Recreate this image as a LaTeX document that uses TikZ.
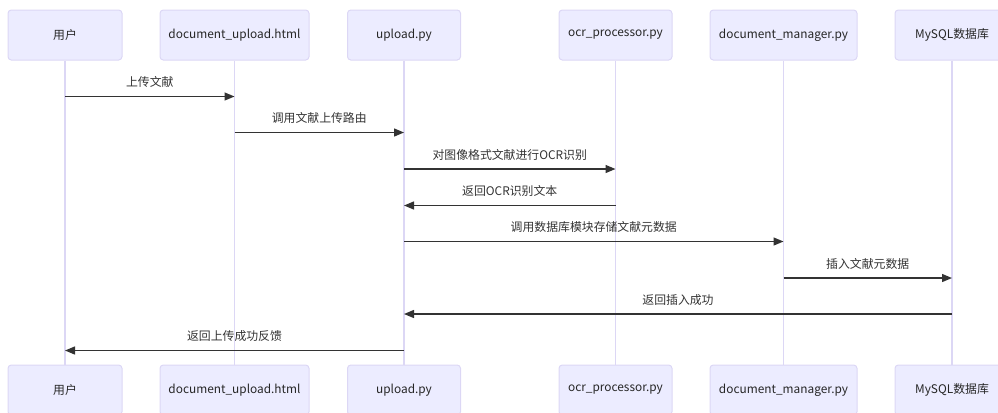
\documentclass[tikz,border=0pt]{standalone}
\usepackage{fontspec}
\setmainfont{Noto Sans CJK SC}
\usetikzlibrary{arrows.meta}
\definecolor{actfill}{HTML}{ECECFF}
\definecolor{actline}{HTML}{DCD7F5}
\definecolor{lifecol}{HTML}{DCD7F5}
\definecolor{msgcol}{HTML}{333333}
\begin{document}
\begin{tikzpicture}[x=0.75pt,y=-0.75pt,
  font=\fontsize{8.9}{11}\selectfont,
  actor/.style={draw=actline, fill=actfill, rounded corners=2.5pt, line width=0.75pt,
    minimum height=37.5pt, inner sep=0pt, text=black!85},
  life/.style={draw=lifecol, line width=1pt},
  msg/.style={draw=msgcol, line width=1pt, -{Triangle[length=7.5pt,width=6pt]}},
  lbl/.style={text=msgcol, inner sep=0pt, anchor=base}]
\useasboundingbox (0,0) rectangle (998,412);
% top actors
\node[actor, minimum width=85.5pt]  (uT) at (65,35)  {用户};
\node[actor, minimum width=111.75pt](hT) at (234.5,35) {document\_upload.html};
\node[actor, minimum width=84.75pt] (pT) at (404,35) {upload.py};
\node[actor, minimum width=84.75pt] (oT) at (615.5,35) {ocr\_processor.py};
\node[actor, minimum width=110.25pt](dT) at (783.5,35) {document\_manager.py};
\node[actor, minimum width=85.5pt]  (sT) at (952,35) {MySQL数据库};
% bottom actors
\node[actor, minimum width=85.5pt]  (uB) at (65,390)  {用户};
\node[actor, minimum width=111.75pt](hB) at (234.5,390) {document\_upload.html};
\node[actor, minimum width=84.75pt] (pB) at (404,390) {upload.py};
\node[actor, minimum width=84.75pt] (oB) at (615.5,390) {ocr\_processor.py};
\node[actor, minimum width=110.25pt](dB) at (783.5,390) {document\_manager.py};
\node[actor, minimum width=85.5pt]  (sB) at (952,390) {MySQL数据库};
% lifelines
\foreach \a in {u,h,p,o,d,s} \draw[life] (\a T.south) -- (\a B.north);
% message rows
\coordinate (m1) at (0,96.5);
\coordinate (m2) at (0,132.5);
\coordinate (m3) at (0,169);
\coordinate (m4) at (0,205.5);
\coordinate (m5) at (0,241.5);
\coordinate (m6) at (0,278);
\coordinate (m7) at (0,314);
\coordinate (m8) at (0,350.5);
\draw[msg] (uT |- m1) -- (hT |- m1) node[lbl, midway, yshift=7.5pt] {上传文献};
\draw[msg] (hT |- m2) -- (pT |- m2) node[lbl, midway, yshift=7.5pt] {调用文献上传路由};
\draw[msg] (pT |- m3) -- (oT |- m3) node[lbl, midway, yshift=7.5pt] {对图像格式文献进行OCR识别};
\draw[msg] (oT |- m4) -- (pT |- m4) node[lbl, midway, yshift=7.5pt] {返回OCR识别文本};
\draw[msg] (pT |- m5) -- (dT |- m5) node[lbl, midway, yshift=7.5pt] {调用数据库模块存储文献元数据};
\draw[msg] (dT |- m6) -- (sT |- m6) node[lbl, midway, yshift=7.5pt] {插入文献元数据};
\draw[msg] (sT |- m7) -- (pT |- m7) node[lbl, midway, yshift=7.5pt] {返回插入成功};
\draw[msg] (pT |- m8) -- (uT |- m8) node[lbl, midway, yshift=7.5pt] {返回上传成功反馈};
\end{tikzpicture}
\end{document}
